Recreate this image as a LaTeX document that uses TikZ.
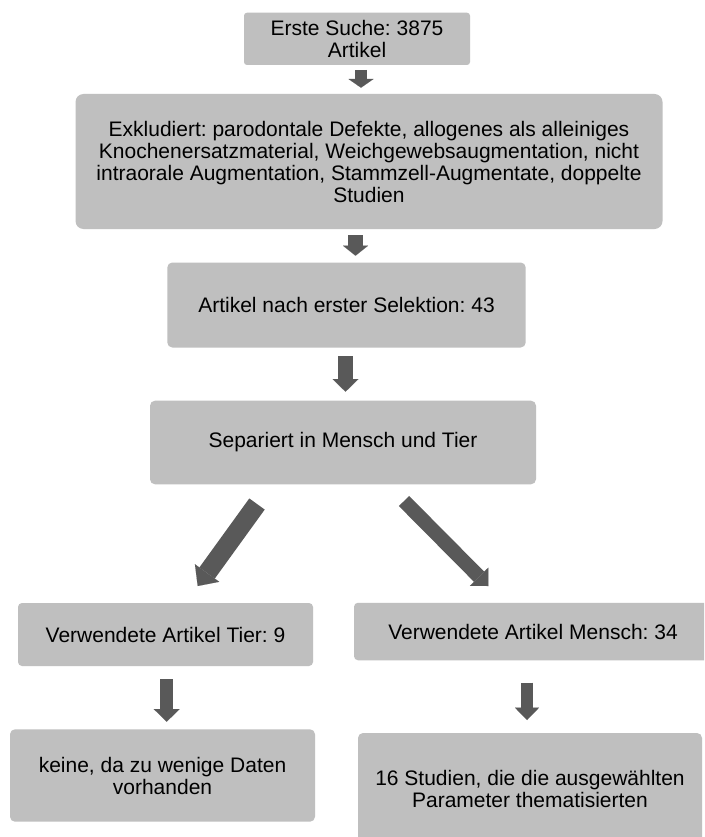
\documentclass[tikz,border=0pt]{standalone}
\usepackage{fontspec}
\setmainfont{Liberation Sans}
\usetikzlibrary{arrows.meta}
\definecolor{boxgray}{RGB}{191,191,191}
\definecolor{arrowgray}{RGB}{89,89,89}
\tikzset{
  box/.style={fill=boxgray, draw=none, align=center, inner sep=0pt,
    text=black, font=\fontsize{21}{22}\selectfont\frenchspacing},
  barrow/.style args={#1/#2/#3}{draw=arrowgray, line width=#1,
    -{Triangle[width=#2, length=#3, line width=0.01pt]}}
}
\begin{document}
\frenchspacing
\begin{tikzpicture}[x=1pt, y=-1pt]
\clip (0,0) rectangle (704,837);
\fill[white] (0,0) rectangle (704,837);
% boxes
\node[box, rounded corners=3pt, minimum width=226pt, minimum height=52.3pt] (b1) at (357,38.85) {Erste Suche: 3875\\Artikel};
\node[box, rounded corners=8pt, minimum width=587pt, minimum height=135pt] (b2) at (369,161.5) {Exkludiert: parodontale Defekte, allogenes als alleiniges\\Knochenersatzmaterial, Weichgewebsaugmentation, nicht\\intraorale Augmentation, Stammzell-Augmentate, doppelte\\Studien};
\node[box, rounded corners=5pt, minimum width=358.4pt, minimum height=85pt] (b3) at (346.5,305) {Artikel nach erster Selektion: 43};
\node[box, rounded corners=5pt, minimum width=386pt, minimum height=83.6pt] (b4) at (343,442.5) {Separiert in Mensch und Tier};
\node[box, rounded corners=4pt, minimum width=295pt, minimum height=63pt] (b5l) at (165.5,634.5) {Verwendete Artikel Tier: 9};
\node[box, rounded corners=4pt, minimum width=358pt, minimum height=57.5pt] (b5r) at (533,631.5) {Verwendete Artikel Mensch: 34};
\node[box, rounded corners=5pt, minimum width=305pt, minimum height=92.4pt] (b6l) at (162.5,775.5) {keine, da zu wenige Daten\\vorhanden};
\node[box, rounded corners=5pt, minimum width=344pt, minimum height=112pt] (b6r) at (530,789) {16 Studien, die die ausgewählten\\Parameter thematisierten};
% arrow end points
\coordinate (a1s) at (361,70);     \coordinate (a1e) at (361,87.7);
\coordinate (a2s) at (355.5,235);  \coordinate (a2e) at (355.5,255.7);
\coordinate (a3s) at (345.5,356);  \coordinate (a3e) at (345.5,391.7);
\coordinate (a4s) at (257,504);    \coordinate (a4e) at (197.7,586);
\coordinate (a5s) at (404,501);    \coordinate (a5e) at (488.3,586);
\coordinate (a6s) at (166.7,679.3);\coordinate (a6e) at (166.7,721.7);
\coordinate (a7s) at (527,682.7);  \coordinate (a7e) at (527,720);
% arrows
\draw[barrow={12pt/25pt/8.7pt}] (a1s) -- (a1e);
\draw[barrow={15pt/25pt/10pt}] (a2s) -- (a2e);
\draw[barrow={15.6pt/26pt/12.7pt}] (a3s) -- (a3e);
\draw[barrow={19pt/30pt/16pt}] (a4s) -- (a4e);
\draw[barrow={14.4pt/26pt/13pt}] (a5s) -- (a5e);
\draw[barrow={13.3pt/26pt/12.7pt}] (a6s) -- (a6e);
\draw[barrow={12.7pt/24pt/12.3pt}] (a7s) -- (a7e);
\end{tikzpicture}
\end{document}
